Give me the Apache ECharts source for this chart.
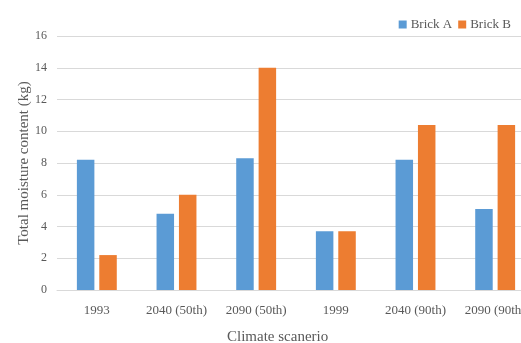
<!DOCTYPE html>
<html>
<head>
<meta charset="utf-8">
<script src="https://cdn.jsdelivr.net/npm/echarts@6/dist/echarts.min.js"></script>
<style>
  html, body { margin: 0; padding: 0; background: #fff; }
  #chart { width: 521px; height: 343px; }
</style>
</head>
<body>
<div id="chart"></div>
<script>
// Climate scenarios on the category axis
var scenarios = ['1993', '2040 (50th)', '2090 (50th)', '1999', '2040 (90th)', '2090 (90th)'];
// Total moisture content (kg) per brick type
var brickA = [8.2, 4.8, 8.3, 3.7, 8.2, 5.1];
var brickB = [2.2, 6.0, 14.0, 3.7, 10.4, 10.4];
// Value axis ticks
var yMin = 0, yMax = 16, yStep = 2;

var FONT = '"Liberation Serif", "DejaVu Serif", serif';
var TEXT = '#595959';

var chart = echarts.init(document.getElementById('chart'), null, { renderer: 'canvas' });
chart.setOption({
  animation: false,
  backgroundColor: '#ffffff',
  textStyle: { fontFamily: FONT, color: TEXT },
  legend: {
    top: 13,
    right: 5,
    itemWidth: 8,
    itemHeight: 8,
    itemGap: 6,
    icon: 'rect',
    textStyle: { fontFamily: FONT, fontSize: 13, color: TEXT, padding: [0, 0, 0, -1] },
    data: ['Brick A', 'Brick B']
  },
  grid: { left: 57, top: 36, width: 478, height: 254, containLabel: false, outerBoundsMode: 'none' },
  xAxis: {
    type: 'category',
    data: scenarios,
    axisLine: { show: true, lineStyle: { color: '#d9d9d9', width: 1 } },
    axisTick: { show: false },
    axisLabel: { fontFamily: FONT, fontSize: 13, color: TEXT, margin: 14, interval: 0 }
  },
  yAxis: {
    type: 'value',
    min: yMin,
    max: yMax,
    interval: yStep,
    name: 'Total moisture content (kg)',
    nameLocation: 'middle',
    nameGap: 25,
    nameMoveOverlap: false,
    nameTextStyle: { fontFamily: FONT, fontSize: 15, color: TEXT },
    axisLine: { show: false },
    axisTick: { show: false },
    splitLine: { lineStyle: { color: '#d9d9d9', width: 1 } },
    axisLabel: { fontFamily: FONT, fontSize: 12, color: TEXT, margin: 10 }
  },
  graphic: [{
    type: 'text',
    left: 227,
    top: 330,
    style: { text: 'Climate scanerio', font: '15px ' + FONT, fill: TEXT }
  }],
  series: [
    {
      name: 'Brick A',
      type: 'bar',
      data: brickA,
      barWidth: 17.5,
      barGap: '28%',
      itemStyle: { color: '#5b9bd5' }
    },
    {
      name: 'Brick B',
      type: 'bar',
      data: brickB,
      barWidth: 17.5,
      barGap: '28%',
      itemStyle: { color: '#ed7d31' }
    }
  ]
});
</script>
</body>
</html>
